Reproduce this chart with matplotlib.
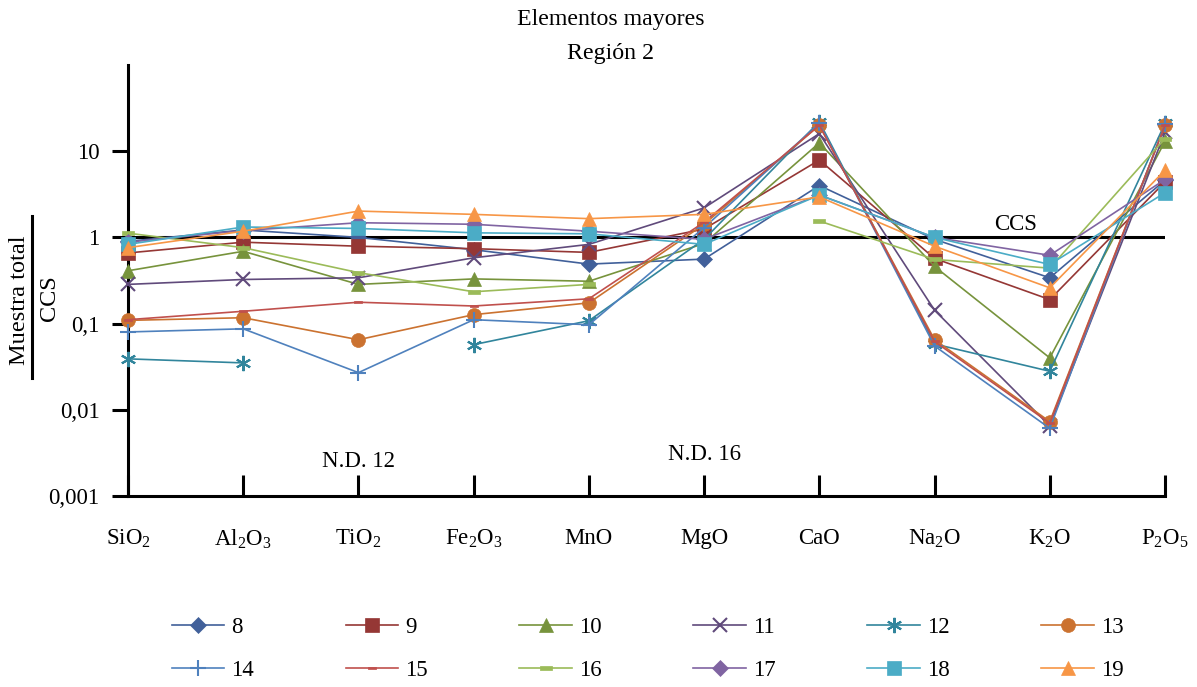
import numpy as np
import matplotlib
matplotlib.use("Agg")
import matplotlib.pyplot as plt
from matplotlib.lines import Line2D

plt.rcParams["font.family"] = "Liberation Serif"
plt.rcParams["mathtext.fontset"] = "custom"
plt.rcParams["mathtext.rm"] = "Liberation Serif"
plt.rcParams["mathtext.it"] = "Liberation Serif:italic"

nan = np.nan
oxides = ["SiO$_2$", "Al$_2$O$_3$", "TiO$_2$", "Fe$_2$O$_3$", "MnO", "MgO",
          "CaO", "Na$_2$O", "K$_2$O", "P$_2$O$_5$"]
samples = ["8", "9", "10", "11", "12", "13", "14", "15", "16", "17", "18", "19"]

s8 = [0.90, 1.22, 1.00, 0.72, 0.49, 0.56, 4.0, 0.95, 0.34, 4.6]
s9 = [0.66, 0.88, 0.79, 0.74, 0.67, 1.25, 7.9, 0.57, 0.19, 4.4]
s10 = [0.41, 0.69, 0.285, 0.33, 0.31, 0.85, 12.5, 0.46, 0.040, 13.0]
s11 = [0.285, 0.325, 0.34, 0.58, 0.83, 2.2, 16.0, 0.143, 0.0065, 16.5]
s12 = [0.039, 0.035, nan, 0.057, 0.108, 0.95, 22.0, 0.058, 0.028, 21.0]
s13 = [0.109, 0.117, 0.065, 0.127, 0.174, 1.42, 20.0, 0.065, 0.0073, 20.0]
s14 = [0.080, 0.087, 0.027, 0.111, 0.097, 1.3, 21.0, 0.055, 0.0061, 20.5]
s15 = [0.111, 0.139, 0.177, 0.160, 0.194, 1.5, 20.0, 0.062, 0.0070, 20.0]
s16 = [1.12, 0.76, 0.39, 0.234, 0.285, nan, 1.55, 0.555, 0.44, 14.0]
s17 = [0.88, 1.20, 1.48, 1.42, 1.18, 0.95, 3.1, 1.0, 0.62, 4.7]
s18 = [0.83, 1.32, 1.27, 1.13, 1.10, 0.83, 3.1, 1.0, 0.485, 3.3]
s19 = [0.76, 1.18, 2.02, 1.85, 1.65, 1.85, 2.95, 0.79, 0.26, 6.0]
series = [s8, s9, s10, s11, s12, s13, s14, s15, s16, s17, s18, s19]

colors = ["#41609A", "#953735", "#77933C", "#604A7B", "#31859C", "#CB7230",
          "#4F81BD", "#C0504D", "#9BBB59", "#8064A2", "#4BACC6", "#F79646"]
bar = [(-1, -0.35), (1, -0.35), (1, 0.35), (-1, 0.35), (-1, -0.35)]
markers = ["D", "s", "^", "x", (6, 2, 0), "o", "+", bar, bar, "D", "s", "^"]
msizes = [8, 10, 10, 10, 11, 10, 11, 6, 9, 8, 10, 10]

fig = plt.figure(figsize=(11.97, 6.87), dpi=100)
ax = fig.add_axes([128 / 1197, 1 - 496 / 687, (1165 - 128) / 1197, (496 - 65) / 687])

x = np.arange(len(oxides))
ax.axhline(1, color="black", lw=2.2, zorder=1)
handles = []
for name, vals, c, m, ms in zip(samples, series, colors, markers, msizes):
    h, = ax.plot(x, vals, color=c, marker=m, markersize=ms, lw=1.2,
                 markeredgewidth=1.5 if m in ("x", "+") or isinstance(m, tuple) else 0.5,
                 markeredgecolor=c, label=name, clip_on=False, zorder=3)
    handles.append(h)

ax.set_yscale("log")
ax.set_ylim(0.001, 100)
ax.set_xlim(0, 9)
ax.set_yticks([0.001, 0.01, 0.1, 1, 10])
ax.set_yticklabels(["0,001", "0,01", "0,1", "1", "10"])
ax.minorticks_off()
ax.set_xticks(x)
ax.set_xticklabels(oxides)

for s in ["top", "right"]:
    ax.spines[s].set_visible(False)
for s in ["left", "bottom"]:
    ax.spines[s].set_linewidth(2.2)
ax.tick_params(axis="y", direction="out", length=11.5, width=2.2, labelsize=16.5, pad=9)
ax.tick_params(axis="x", direction="in", length=15, width=2.2, labelsize=16.5, pad=23)

ax.text(2, 0.0025, "N.D. 12", ha="center", va="center", fontsize=16.5)
ax.text(5, 0.003, "N.D. 16", ha="center", va="center", fontsize=16.5)
ax.text(7.7, 1.06, "CCS", ha="center", va="bottom", fontsize=16.5)

fig.text(0.51, 1 - 20 / 687, "Elementos mayores", ha="center", va="center", fontsize=17.2)
fig.text(0.51, 1 - 54 / 687, "Región 2", ha="center", va="center", fontsize=17.2)

# y label as a fraction
fig.text(20 / 1197, 1 - 300 / 687, "Muestra total", rotation=90, ha="center", va="center", fontsize=17.5)
fig.text(49 / 1197, 1 - 298 / 687, "CCS", rotation=90, ha="center", va="center", fontsize=17.5)
fig.add_artist(Line2D([32 / 1197, 32 / 1197], [1 - 216 / 687, 1 - 378 / 687],
                      color="black", lw=2.2, transform=fig.transFigure))

order = [0, 6, 1, 7, 2, 8, 3, 9, 4, 10, 5, 11]
fig.legend([handles[i] for i in order], [samples[i] for i in order],
           ncol=6, loc="center", bbox_to_anchor=(0.541, 1 - 649 / 687),
           frameon=False, fontsize=16.5, handlelength=2.3, handletextpad=0.3,
           columnspacing=4.0, labelspacing=0.95)

fig.savefig("out.png", dpi=100)
